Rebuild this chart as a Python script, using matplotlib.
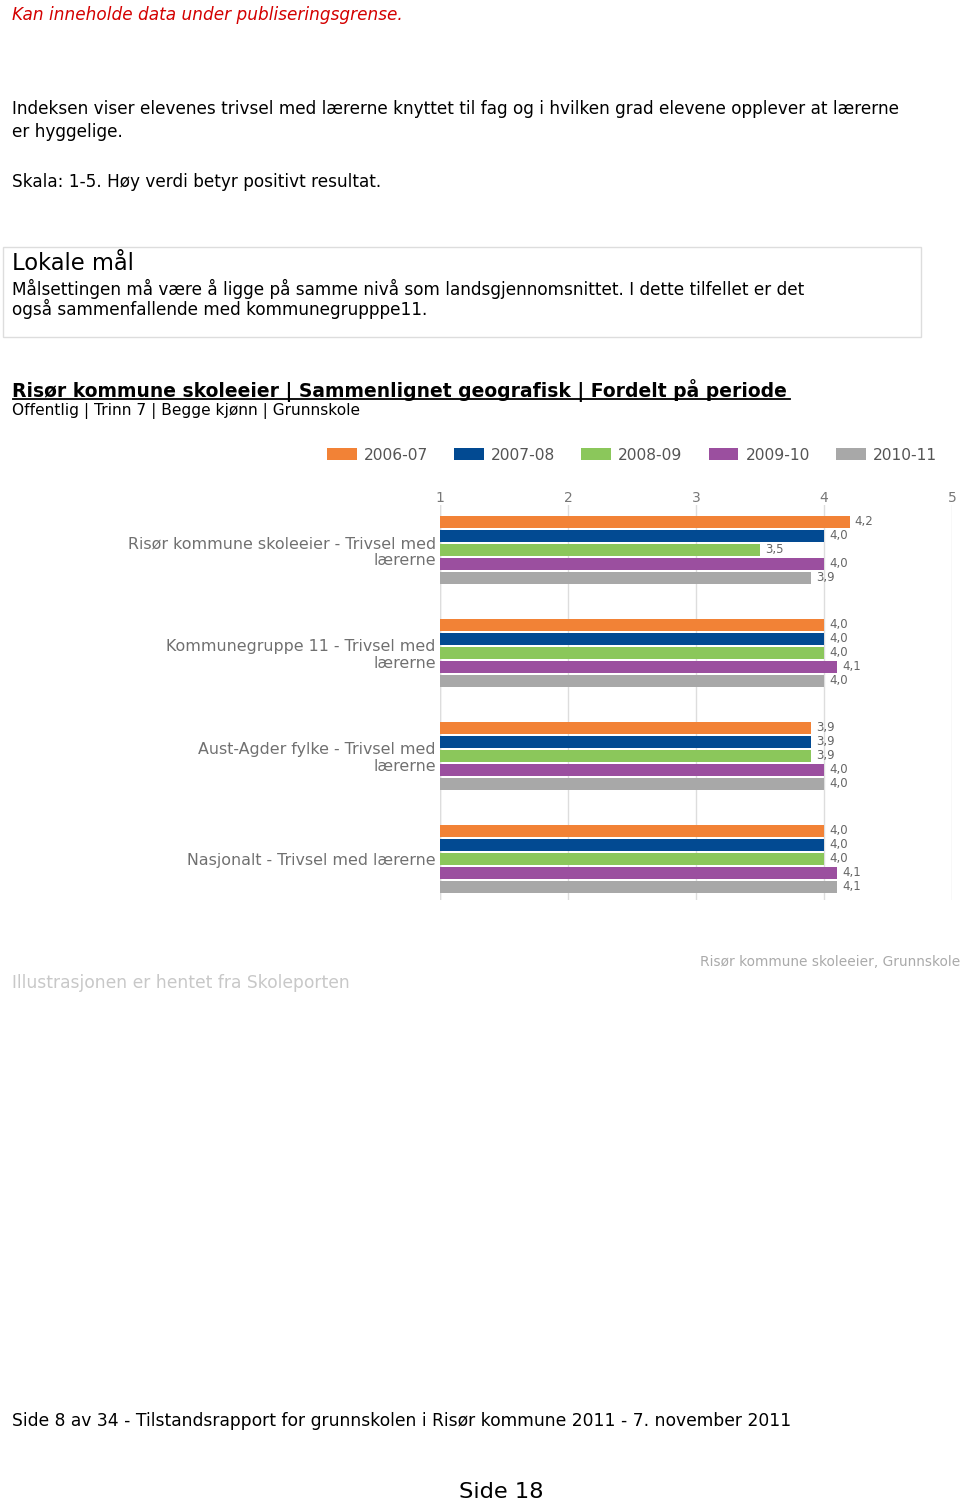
import matplotlib.pyplot as plt
from matplotlib.patches import Rectangle
import numpy as np

# data
periods = ["2006-07", "2007-08", "2008-09", "2009-10", "2010-11"]
colors = ["#F28236", "#024A92", "#8BC75B", "#9B4F9F", "#A8A8A8"]
groups = ["Risør kommune skoleeier - Trivsel med\nlærerne",
          "Kommunegruppe 11 - Trivsel med\nlærerne",
          "Aust-Agder fylke - Trivsel med\nlærerne",
          "Nasjonalt - Trivsel med lærerne"]
v_2006 = [4.2, 4.0, 3.9, 4.0]
v_2007 = [4.0, 4.0, 3.9, 4.0]
v_2008 = [3.5, 4.0, 3.9, 4.0]
v_2009 = [4.0, 4.1, 4.0, 4.1]
v_2010 = [3.9, 4.0, 4.0, 4.1]
series = [v_2006, v_2007, v_2008, v_2009, v_2010]

W, H = 960, 1502
fig = plt.figure(figsize=(W/100, H/100), dpi=100)

def txt(x, y, s, **kw):
    # x, y in pixels from top-left
    return fig.text(x/W, 1 - y/H, s, va="center", **kw)

txt(12, 15, "Kan inneholde data under publiseringsgrense.", color="#d40000",
    style="italic", fontsize=12.2)
txt(12, 109, "Indeksen viser elevenes trivsel med lærerne knyttet til fag og i hvilken grad elevene opplever at lærerne",
    fontsize=12.2)
txt(12, 132, "er hyggelige.", fontsize=12.2)
txt(12, 182, "Skala: 1-5. Høy verdi betyr positivt resultat.", fontsize=12.2)

fig.patches.append(Rectangle((3/W, 1-337/H), 918/W, 90/H, transform=fig.transFigure,
                             fill=False, edgecolor="#dddddd", lw=1))
txt(12, 264, "Lokale mål", fontsize=16.3)
txt(12, 289, "Målsettingen må være å ligge på samme nivå som landsgjennomsnittet. I dette tilfellet er det",
    fontsize=12.2)
txt(12, 309, "også sammenfallende med kommunegrupppe11.", fontsize=12.2)

txt(12, 391, "Risør kommune skoleeier | Sammenlignet geografisk | Fordelt på periode",
    fontsize=13.5, fontweight="bold")
fig.lines.append(plt.Line2D([13/W, 790/W], [1-399/H, 1-399/H], transform=fig.transFigure,
                            color="black", lw=1.3))
txt(12, 411, "Offentlig | Trinn 7 | Begge kjønn | Grunnskole", fontsize=11.1)

# chart
ax = fig.add_axes([440/W, 1-900/H, 512/W, 395/H])
pitch = 0.136
h = 0.1165
y0 = np.arange(len(groups))
for i, (vals, c, p) in enumerate(zip(series, colors, periods)):
    ys = y0 + (i - 2) * pitch
    ax.barh(ys, np.array(vals) - 1, left=1, height=h, color=c, label=p, zorder=3)
    for y, v in zip(ys, vals):
        ax.text(v + 0.04, y, f"{v:.1f}".replace(".", ","), va="center", ha="left",
                fontsize=8.5, color="#666666", family=["Liberation Sans Narrow", "DejaVu Sans"],
                bbox=dict(boxstyle="square,pad=0.1", fc="white", ec="none") if i == 2 and v < 3.8 else None)

ax.set_xlim(1, 5)
ax.set_ylim(3.4, -0.437)
ax.set_xticks([1, 2, 3, 4, 5])
ax.xaxis.tick_top()
ax.tick_params(axis="x", length=0, pad=0, labelsize=10, labelcolor="#777777")
ax.set_yticks(y0)
ax.set_yticklabels(groups, fontsize=11.4, color="#707070", linespacing=1.1)
ax.tick_params(axis="y", length=0, pad=3)
ax.grid(axis="x", color="#dddddd", lw=1, zorder=0)
for s in ax.spines.values():
    s.set_visible(False)
ax.axvline(1, color="#dddddd", lw=1, zorder=1)

fig.legend(loc="center left", bbox_to_anchor=(327/W, 1-455/H), ncol=5, frameon=False,
           fontsize=11.2, handlelength=1.92, handleheight=0.77, handletextpad=0.45,
           columnspacing=1.67, labelcolor="#555555", borderaxespad=0, borderpad=0)

# footers
txt(12, 983, "Illustrasjonen er hentet fra Skoleporten", fontsize=12.3, color="#c8c8c8")
txt(960, 962, "Risør kommune skoleeier, Grunnskole", fontsize=9.9, color="#aaaaaa", ha="right")
txt(12, 1421, "Side 8 av 34 - Tilstandsrapport for grunnskolen i Risør kommune 2011 - 7. november 2011",
    fontsize=12.3)
fig.text(501/W, 1-1492/H, "Side 18", ha="center", va="center", fontsize=16.2)

fig.savefig("out.png", dpi=100, facecolor="white")
